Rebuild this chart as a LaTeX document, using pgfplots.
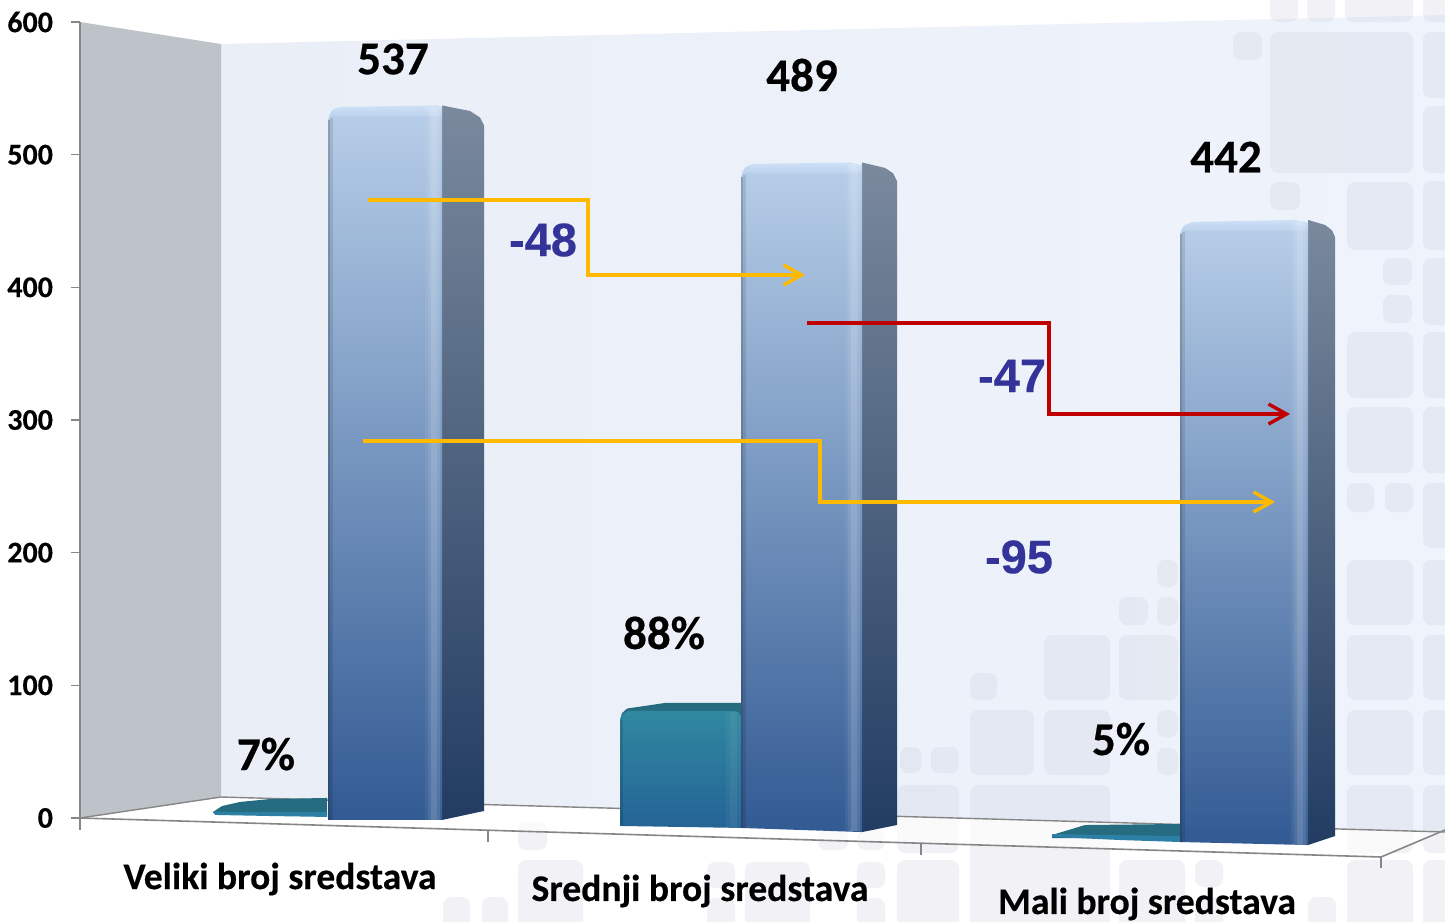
\documentclass[border=0pt]{standalone}
\usepackage{fontspec}
\setmainfont{Carlito}[BoldFeatures={FakeBold=0.4}]
\newfontfamily\arialb{Liberation Sans}[BoldFeatures={FakeBold=0.4}]
\usepackage{pgfplots}
\pgfplotsset{compat=1.18}
\usetikzlibrary{arrows.meta}

\definecolor{wallL}{RGB}{234,238,246}
\definecolor{wallR}{RGB}{239,244,252}
\definecolor{sidewall}{RGB}{190,195,201}
\definecolor{deco}{RGB}{196,198,214}
\definecolor{axgray}{RGB}{134,134,134}
\definecolor{fTop}{RGB}{182,205,232}
\definecolor{fMid}{RGB}{112,143,186}
\definecolor{fBot}{RGB}{50,90,147}
\definecolor{sTop}{RGB}{122,137,156}
\definecolor{sMid}{RGB}{76,97,127}
\definecolor{sBot}{RGB}{34,60,98}
\definecolor{capc}{RGB}{205,224,246}
\definecolor{tTop}{RGB}{48,136,160}
\definecolor{tBot}{RGB}{36,100,150}
\definecolor{tCap}{RGB}{38,108,128}
\definecolor{tEdge}{RGB}{44,128,165}
\definecolor{yel}{RGB}{255,186,0}
\definecolor{redl}{RGB}{192,0,0}
\definecolor{blu}{RGB}{51,51,153}

% decorative tile of the slide background, pixel coordinates
\newcommand\dq[4]{\addplot[draw=none,fill=deco,fill opacity=.22,rounded corners=4pt]
  coordinates {(#1,#2)(#3,#2)(#3,#4)(#1,#4)} -- cycle;}
% shading strip on a column face: x0 x1 top bottom colour opacity
\newcommand\strip[6]{\addplot[draw=none,fill=#5,fill opacity=#6]
  coordinates {(#1,#3)(#2,#3)(#2,#4)(#1,#4)} -- cycle;}
\newcommand\lbl[4]{\node[font=\fontsize{#3}{#3}\selectfont\bfseries,text=black,anchor=center] at (axis cs:#1,#2) {#4};}
\newcommand\dlt[3]{\node[font=\arialb\fontsize{23.5}{23.5}\selectfont\bfseries,text=blu,anchor=center] at (axis cs:#1,#2) {#3};}

\begin{document}
\begin{tikzpicture}
\useasboundingbox (0pt,0pt) rectangle (722.5pt,460.5pt);

% backdrop, in pixels of the slide
\begin{axis}[
  at={(0pt,0pt)},anchor=south west,
  scale only axis,width=722.5pt,height=460.5pt,
  xmin=0,xmax=1445,ymin=0,ymax=921,y dir=reverse,
  hide axis]
\addplot[draw=none,left color=wallL,right color=wallR]
  coordinates {(221,44)(1445,15)(1445,832)(221,797)} -- cycle;
\addplot[draw=none,fill=sidewall]
  coordinates {(80,22)(221,44)(221,797)(80,818)} -- cycle;
% tiles
\dq{1270}{-10}{1298}{22}\dq{1307}{-10}{1335}{22}\dq{1345}{-10}{1413}{22}\dq{1423}{-10}{1460}{22}
\dq{1423}{32}{1460}{98}\dq{1423}{106}{1460}{173}\dq{1423}{181}{1460}{250}\dq{1423}{258}{1460}{325}
\dq{1423}{332}{1460}{398}\dq{1423}{407}{1460}{473}\dq{1423}{483}{1460}{548}\dq{1423}{560}{1460}{625}
\dq{1423}{635}{1460}{700}\dq{1423}{710}{1460}{775}\dq{1423}{785}{1460}{853}\dq{1423}{860}{1460}{930}
\dq{1347}{182}{1413}{250}\dq{1347}{332}{1413}{398}\dq{1347}{407}{1413}{473}\dq{1347}{560}{1413}{625}
\dq{1347}{635}{1413}{700}\dq{1347}{710}{1413}{775}\dq{1347}{785}{1413}{853}\dq{1347}{860}{1413}{930}
\dq{1383}{258}{1412}{285}\dq{1383}{295}{1412}{323}\dq{1347}{483}{1374}{512}\dq{1385}{483}{1413}{512}
\dq{1270}{32}{1413}{173}\dq{1233}{32}{1262}{60}\dq{1270}{182}{1300}{210}
\dq{1157}{560}{1178}{587}\dq{1119}{597}{1148}{625}\dq{1157}{597}{1178}{625}
\dq{1044}{635}{1110}{700}\dq{1119}{635}{1178}{700}\dq{970}{673}{997}{700}
\dq{970}{710}{1034}{775}\dq{1044}{710}{1110}{775}\dq{1157}{710}{1178}{737}\dq{1157}{748}{1178}{775}
\dq{900}{747}{921}{773}\dq{931}{747}{959}{773}\dq{897}{785}{959}{853}\dq{970}{785}{1110}{930}
\dq{897}{860}{959}{930}\dq{1119}{860}{1185}{930}\dq{1195}{860}{1223}{887}\dq{1195}{897}{1223}{930}
\dq{1308}{897}{1336}{930}
\dq{518}{822}{547}{850}\dq{518}{860}{583}{930}\dq{443}{897}{470}{930}\dq{482}{897}{508}{930}
\dq{707}{862}{735}{888}\dq{745}{862}{810}{930}\dq{707}{898}{735}{930}
\dq{818}{830}{848}{850}\dq{857}{830}{885}{850}\dq{857}{862}{885}{888}\dq{857}{898}{885}{930}
% floor
\addplot[draw=none,fill=white,fill opacity=.6]
  coordinates {(80,818)(221,797)(1445,832)(1381,857)} -- cycle;
\addplot[axgray,line width=.7pt] coordinates {(80,818)(221,797)(1445,832)};
\addplot[axgray,line width=.8pt] coordinates {(72,818)(80,818)(1381,857)(1445,830)};
\addplot[axgray,line width=.8pt] coordinates {(80,818)(80,830)};
\addplot[axgray,line width=.8pt] coordinates {(488,830)(488,842)};
\addplot[axgray,line width=.8pt] coordinates {(921,843)(921,855)};
\addplot[axgray,line width=.8pt] coordinates {(1381,857)(1381,868)};
\end{axis}

% the chart itself
\begin{axis}[
  at={(40pt,51.5pt)},anchor=south west,
  scale only axis,width=682.5pt,height=398pt,
  clip=false,
  xmin=80,xmax=1445,ymin=0,ymax=600,
  axis y line=left,axis x line=none,
  y axis line style={-,axgray,line width=.9pt},
  xtick=\empty,ytick={0,100,...,600},
  tick align=outside,
  major tick length=4.5pt,
  y tick style={axgray,line width=.8pt},
  /pgf/number format/assume math mode=true,
  yticklabel style={font=\fontsize{15}{16}\selectfont\bfseries,text=black,xshift=-5.5pt},
]
% small columns
\addplot[draw=none,fill=tCap] coordinates {(213,4.5)(222,9)(240,12.1)(270,14.3)(327,15.1)(327,2.3)(213,3.8)} -- cycle;
\addplot[draw=none,fill=tEdge] coordinates {(213,4.9)(230,4.5)(327,4.5)(327,0.8)(270,1.5)(215,2.3)} -- cycle;
\addplot[draw=none,fill=tCap] coordinates {(620,74)(622,79)(627,82.5)(665,86.7)(741,86.7)(741,76.9)} -- cycle;
\addplot[draw=none,top color=tTop,bottom color=tBot] coordinates {(620,74)(623,78.5)(628,80.7)(733,80.7)(738,80)(741,77)(741,-7.5)(620,-6)} -- cycle;
\strip{620}{623}{74}{-6}{black}{.12}
\strip{726}{730}{80}{-7.5}{white}{.04}
\strip{730}{737}{80}{-7.5}{white}{.08}
\strip{737}{741}{78}{-7.5}{white}{.03}
\addplot[draw=none,fill=tCap] coordinates {(1052,-12.8)(1085,-5.3)(1180,-4.5)(1180,-15.1)(1052,-15.1)} -- cycle;
\addplot[draw=none,fill=tEdge] coordinates {(1052,-12.1)(1100,-12.8)(1180,-13.6)(1180,-18.1)(1120,-16.6)(1053,-14.3)} -- cycle;

% column 1
\addplot[draw=none,top color=sTop,middle color=sMid,bottom color=sBot]
  coordinates {(442,537.1)(470,532.9)(480,528)(484,522)(484,5.3)(442,-1.5)} -- cycle;
\addplot[draw=none,top color=fTop,middle color=fMid,bottom color=fBot]
  coordinates {(328,526)(331,529.9)(442,529.9)(442,-1.5)(328,-1.5)} -- cycle;
\addplot[draw=none,top color=capc,bottom color=fTop]
  coordinates {(328,526)(330,531)(333,534)(340,535.9)(437,537.1)(442,536)(442,529)(331,529)} -- cycle;
\strip{328}{330}{526}{-1.5}{black}{.22}
\strip{330}{333}{528}{-1.5}{black}{.10}
\strip{425}{428}{536}{-1.5}{white}{.05}
\strip{428}{431}{536}{-1.5}{white}{.12}
\strip{431}{437}{536}{-1.5}{white}{.22}
\strip{437}{440}{536}{-1.5}{white}{.14}
\strip{440}{442}{536}{-1.5}{white}{.04}

% column 2
\addplot[draw=none,top color=sTop,middle color=sMid,bottom color=sBot]
  coordinates {(862,494.1)(885,490)(893,486)(897,480)(897,-5.3)(862,-10.6)} -- cycle;
\addplot[draw=none,top color=fTop,middle color=fMid,bottom color=fBot]
  coordinates {(741,483)(744,486.9)(862,486.9)(862,-10.6)(741,-7.5)} -- cycle;
\addplot[draw=none,top color=capc,bottom color=fTop]
  coordinates {(741,483)(743,488)(746,491)(753,493)(850,494.1)(862,492)(862,486)(744,486)} -- cycle;
\strip{741}{743}{483}{-7.5}{black}{.22}
\strip{743}{746}{485}{-7.5}{black}{.10}
\strip{845}{848}{493}{-10}{white}{.05}
\strip{848}{851}{493}{-10}{white}{.12}
\strip{851}{857}{493}{-10}{white}{.22}
\strip{857}{860}{493}{-10}{white}{.14}
\strip{860}{862}{493}{-10.6}{white}{.04}

% column 3
\addplot[draw=none,top color=sTop,middle color=sMid,bottom color=sBot]
  coordinates {(1308,450.8)(1325,447)(1332,443)(1335,438)(1335,-13.6)(1308,-20.4)} -- cycle;
\addplot[draw=none,top color=fTop,middle color=fMid,bottom color=fBot]
  coordinates {(1180,440)(1183,443.2)(1308,443.2)(1308,-20.4)(1180,-18.1)} -- cycle;
\addplot[draw=none,top color=capc,bottom color=fTop]
  coordinates {(1180,440)(1182,444.5)(1185,447)(1192,449.3)(1295,450.8)(1308,449)(1308,442.5)(1183,442.5)} -- cycle;
\strip{1180}{1182}{440}{-18}{black}{.22}
\strip{1182}{1185}{442}{-18}{black}{.10}
\strip{1291}{1294}{450}{-20}{white}{.05}
\strip{1294}{1297}{450}{-20}{white}{.12}
\strip{1297}{1303}{450}{-20}{white}{.22}
\strip{1303}{1306}{450}{-20}{white}{.14}
\strip{1306}{1308}{450}{-20}{white}{.04}

% difference arrows
\addplot[yel,line width=1.7pt,-{Straight Barb[length=9pt,width=10pt]}]
  coordinates {(368,465.8)(588,465.8)(588,409.3)(805,409.3)};
\addplot[redl,line width=1.7pt,-{Straight Barb[length=9pt,width=10pt]}]
  coordinates {(807,373.1)(1049,373.1)(1049,304.5)(1290,304.5)};
\addplot[yel,line width=1.7pt,-{Straight Barb[length=9pt,width=10pt]}]
  coordinates {(363,284.2)(820,284.2)(820,238.2)(1275,238.2)};

% value labels
\lbl{393}{572.1}{23.5}{537}
\lbl{802}{560}{23.5}{489}
\lbl{1226}{498.2}{23.5}{442}
\lbl{266}{48.2}{23.5}{7\%}
\lbl{664}{139.5}{23.5}{88\%}
\lbl{1121}{59.5}{23.5}{5\%}
\dlt{543}{435.7}{-48}
\dlt{1012}{333.2}{-47}
\dlt{1019}{196.7}{-95}
% category names
\lbl{280}{-46}{18.8}{Veliki broj sredstava}
\lbl{700}{-55}{18.8}{Srednji broj sredstava}
\lbl{1147}{-64.8}{18.8}{Mali broj sredstava}
\end{axis}

\end{tikzpicture}
\end{document}
